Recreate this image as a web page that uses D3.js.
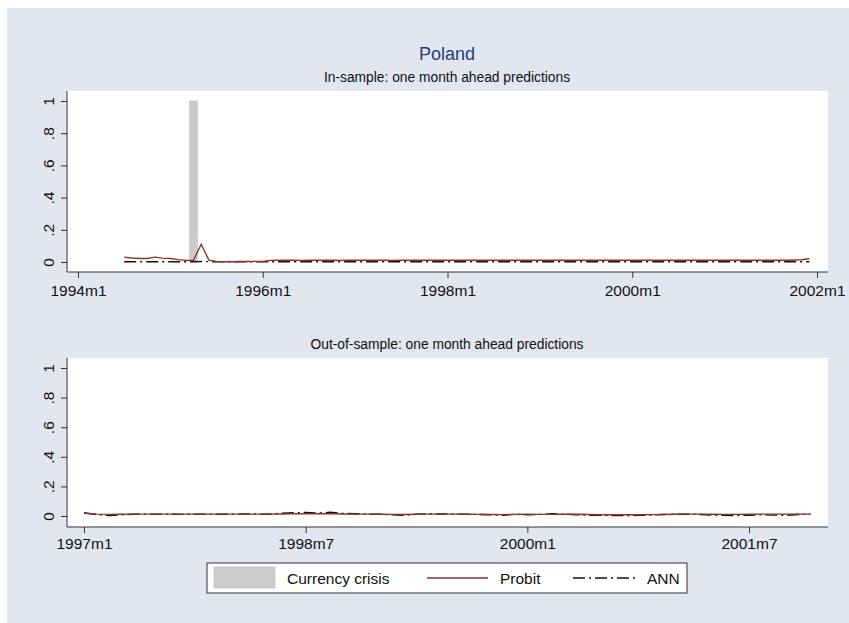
<!DOCTYPE html>
<html>
<head>
<meta charset="utf-8">
<script src="https://cdn.jsdelivr.net/npm/d3@7"></script>
<style>
  body { margin: 0; background: #fff; }
  text { font-family: "Liberation Sans", Arial, sans-serif; fill: #111; }
</style>
</head>
<body>
<div id="chart"></div>
<script>
// crisis months (months since 1994m1)
const crisisMonths = [15]; // 1995m4

// in-sample: 1994m7 .. 2001m12
const inStart = 6;
const inProbit = [
  0.030, 0.025, 0.022, 0.022, 0.030, 0.024, 0.022, 0.015, 0.010, 0.010,
  0.110, 0.012, 0.004, 0.002, 0.002, 0.003, 0.003, 0.004, 0.003,
  0.010, 0.011, 0.011, 0.011, 0.010, 0.011, 0.011, 0.011, 0.011, 0.010,
  0.011, 0.011, 0.011, 0.011, 0.011, 0.011, 0.010, 0.011, 0.011, 0.011,
  0.011, 0.011, 0.011, 0.011, 0.011, 0.011, 0.011, 0.011, 0.011, 0.011,
  0.011, 0.011, 0.011, 0.011, 0.011, 0.011, 0.011, 0.011, 0.011, 0.011,
  0.011, 0.011, 0.011, 0.011, 0.011, 0.011, 0.011, 0.011, 0.011, 0.011,
  0.011, 0.011, 0.011, 0.011, 0.011, 0.011, 0.011, 0.011, 0.011, 0.011,
  0.011, 0.011, 0.011, 0.011, 0.011, 0.011, 0.011, 0.011, 0.012, 0.014,
  0.020
];
const inAnn = [
  0.002, 0.002, 0.002, 0.002, 0.002, 0.002, 0.002, 0.002, 0.002, 0.002,
  0.003, 0.002, 0.001, 0.001, 0.001, 0.001, 0.001, 0.001, 0.001,
  0.002, 0.002, 0.002, 0.002, 0.002, 0.002, 0.002, 0.002, 0.002, 0.002,
  0.002, 0.002, 0.002, 0.002, 0.002, 0.002, 0.002, 0.002, 0.002, 0.002,
  0.002, 0.002, 0.002, 0.002, 0.002, 0.002, 0.002, 0.002, 0.002, 0.002,
  0.002, 0.002, 0.002, 0.002, 0.002, 0.002, 0.002, 0.002, 0.002, 0.002,
  0.002, 0.002, 0.002, 0.002, 0.002, 0.002, 0.002, 0.002, 0.002, 0.002,
  0.002, 0.002, 0.002, 0.002, 0.002, 0.002, 0.002, 0.002, 0.002, 0.002,
  0.002, 0.002, 0.002, 0.002, 0.002, 0.002, 0.002, 0.002, 0.002, 0.002,
  0.002
];
const inTicks = [0, 24, 48, 72, 96];
const inTickLabels = ['1994m1', '1996m1', '1998m1', '2000m1', '2002m1'];

// out-of-sample: 1997m1 .. 2001m12 (months since 1997m1)
const outProbit = [
  0.018, 0.013, 0.011, 0.012, 0.013, 0.013, 0.013, 0.013, 0.013, 0.013,
  0.013, 0.013, 0.013, 0.013, 0.013, 0.013, 0.014, 0.015, 0.016, 0.015,
  0.015, 0.014, 0.013, 0.013, 0.012, 0.011, 0.010, 0.012, 0.013, 0.013,
  0.013, 0.012, 0.011, 0.010, 0.009, 0.011, 0.012, 0.011, 0.011, 0.013,
  0.012, 0.010, 0.008, 0.008, 0.008, 0.008, 0.009, 0.010, 0.012, 0.013,
  0.013, 0.012, 0.011, 0.011, 0.012, 0.013, 0.013, 0.013, 0.013, 0.013
];
const outAnn = [
  0.022, 0.010, 0.003, 0.008, 0.012, 0.013, 0.012, 0.012, 0.011, 0.012,
  0.013, 0.012, 0.012, 0.014, 0.013, 0.012, 0.018, 0.022, 0.024, 0.020,
  0.025, 0.018, 0.015, 0.012, 0.012, 0.008, 0.004, 0.012, 0.015, 0.014,
  0.013, 0.012, 0.010, 0.008, 0.004, 0.012, 0.008, 0.010, 0.015, 0.012,
  0.008, 0.005, 0.004, 0.003, 0.003, 0.004, 0.006, 0.010, 0.012, 0.012,
  0.010, 0.006, 0.004, 0.003, 0.005, 0.008, 0.006, 0.005, 0.010, 0.012
];
const outTicks = [0, 18, 36, 54];
const outTickLabels = ['1997m1', '1998m7', '2000m1', '2001m7'];

const yTicks = [0, 0.2, 0.4, 0.6, 0.8, 1];
const yTickLabels = ['0', '.2', '.4', '.6', '.8', '1'];

const legendLabels = ['Currency crisis', 'Probit', 'ANN'];

const W = 849, H = 623;
const probitColor = '#8e2f38';
const annDash = '12,4,2,4';
const tickFont = '15.5px';

const svg = d3.select('#chart').append('svg')
  .attr('width', W).attr('height', H);

svg.append('rect')
  .attr('x', 7).attr('y', 8)
  .attr('width', W - 7).attr('height', H - 8)
  .attr('fill', '#e1e6f0');

svg.append('text')
  .attr('x', 447).attr('y', 60)
  .attr('text-anchor', 'middle')
  .style('font-size', '18px')
  .style('fill', '#1f3f7c')
  .text('Poland');

const drawPanel = (p) => {
  const g = svg.append('g');

  g.append('rect')
    .attr('x', p.left).attr('y', p.top)
    .attr('width', p.right - p.left).attr('height', p.bottom - p.top)
    .attr('fill', '#fff');

  g.append('text')
    .attr('x', 447).attr('y', p.top - 9)
    .attr('text-anchor', 'middle')
    .style('font-size', '13.8px')
    .text(p.title);

  const x = d3.scaleLinear().domain(p.xDomain).range(p.xRange);
  const y = d3.scaleLinear().domain([0, 1]).range(p.yRange);

  // crisis bars
  if (p.crisis) {
    const w = x(1) - x(0);
    g.selectAll('rect.crisis')
      .data(p.crisis)
      .join('rect')
      .attr('class', 'crisis')
      .attr('x', (d) => x(d) - w / 2)
      .attr('y', y(1))
      .attr('width', w)
      .attr('height', y(0) - y(1))
      .attr('fill', '#cbcbcb')
      .attr('stroke', '#bdbdbd')
      .attr('stroke-width', 0.6);
  }

  const line = d3.line()
    .x((d, i) => x(p.start + i))
    .y((d) => y(d));

  g.append('path')
    .datum(p.ann)
    .attr('fill', 'none')
    .attr('stroke', '#111')
    .attr('stroke-width', 1.4)
    .attr('stroke-dasharray', annDash)
    .attr('d', line);

  g.append('path')
    .datum(p.probit)
    .attr('fill', 'none')
    .attr('stroke', probitColor)
    .attr('stroke-width', 1.4)
    .attr('d', line);

  // axes
  const xAxis = d3.axisBottom(x)
    .tickValues(p.ticks)
    .tickFormat((d, i) => p.tickLabels[i])
    .tickSize(6)
    .tickSizeOuter(0);
  const gx = g.append('g')
    .attr('transform', `translate(0,${p.bottom})`)
    .call(xAxis);
  gx.select('.domain').remove();
  gx.append('line')
    .attr('x1', p.left).attr('x2', p.right)
    .attr('stroke', '#333');
  gx.selectAll('.tick line').attr('stroke', '#333');
  gx.selectAll('.tick text')
    .attr('dy', '0.72em')
    .attr('y', p.labelOffset)
    .style('font-size', tickFont)
    .style('font-family', '"Liberation Sans", Arial, sans-serif')
    .attr('fill', '#111');

  const yAxis = d3.axisLeft(y)
    .tickValues(yTicks)
    .tickFormat((d, i) => yTickLabels[i])
    .tickSize(6)
    .tickSizeOuter(0);
  const gy = g.append('g')
    .attr('transform', `translate(${p.left},0)`)
    .call(yAxis);
  gy.select('.domain').remove();
  gy.append('line')
    .attr('y1', p.top).attr('y2', p.bottom)
    .attr('stroke', '#333');
  gy.selectAll('.tick line').attr('stroke', '#333');
  gy.selectAll('.tick text')
    .attr('x', null).attr('dy', null)
    .attr('transform', 'translate(-13,0) rotate(-90)')
    .attr('text-anchor', 'middle')
    .style('font-size', tickFont)
    .style('font-family', '"Liberation Sans", Arial, sans-serif')
    .attr('fill', '#111');
};

drawPanel({
  title: 'In-sample: one month ahead predictions',
  left: 67, right: 828, top: 91, bottom: 272,
  xDomain: [0, 96], xRange: [78, 817],
  yRange: [262, 101],
  start: inStart, probit: inProbit, ann: inAnn,
  crisis: crisisMonths,
  ticks: inTicks, tickLabels: inTickLabels,
  labelOffset: 13,
});

drawPanel({
  title: 'Out-of-sample: one month ahead predictions',
  left: 67, right: 828, top: 358, bottom: 527,
  xDomain: [0, 54], xRange: [84, 749],
  yRange: [516, 368],
  start: 0, probit: outProbit, ann: outAnn,
  crisis: null,
  ticks: outTicks, tickLabels: outTickLabels,
  labelOffset: 11,
});

// legend
const lg = svg.append('g');
lg.append('rect')
  .attr('x', 207).attr('y', 563)
  .attr('width', 480).attr('height', 30)
  .attr('fill', '#fff')
  .attr('stroke', '#333')
  .attr('stroke-width', 1);

const keyX = [214, 427, 573];
const textX = [287, 500, 647];
lg.append('rect')
  .attr('x', keyX[0]).attr('y', 567)
  .attr('width', 61).attr('height', 21)
  .attr('fill', '#cbcbcb')
  .attr('stroke', '#bdbdbd')
  .attr('stroke-width', 0.6);
lg.append('line')
  .attr('x1', keyX[1]).attr('x2', keyX[1] + 61)
  .attr('y1', 578).attr('y2', 578)
  .attr('stroke', probitColor).attr('stroke-width', 1.4);
lg.append('line')
  .attr('x1', keyX[2]).attr('x2', keyX[2] + 62)
  .attr('y1', 578).attr('y2', 578)
  .attr('stroke', '#111').attr('stroke-width', 1.4)
  .attr('stroke-dasharray', annDash);
lg.selectAll('text.lab')
  .data(legendLabels)
  .join('text')
  .attr('class', 'lab')
  .attr('x', (d, i) => textX[i])
  .attr('y', 583.5)
  .style('font-size', tickFont)
  .text((d) => d);
</script>
</body>
</html>
